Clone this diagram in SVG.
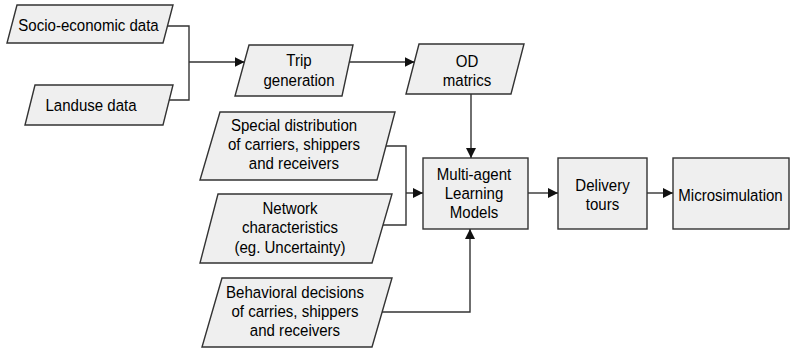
<svg xmlns="http://www.w3.org/2000/svg" width="792" height="348" viewBox="0 0 792 348">
  <defs>
    <marker id="arrow" markerUnits="userSpaceOnUse" markerWidth="11" markerHeight="10" refX="10" refY="5" orient="auto">
      <path d="M0,0 L10,5 L0,10 z" fill="#111"/>
    </marker>
    <style>
      .box { fill: #efefef; stroke: #333; stroke-width: 1.4; }
      .lbl { font-family: "Liberation Sans", Arial, sans-serif; font-size: 17px; fill: #000; text-anchor: middle; }
      .wire { fill: none; stroke: #333; stroke-width: 1.4; }
    </style>
  </defs>
  <rect width="792" height="348" fill="#fff"/>

  <!-- input data -->
  <g id="socio">
    <polygon class="box" points="17,5 173,5 163,43 7,43"/>
    <text class="lbl" transform="translate(88.5,31) scale(0.885,1)" x="0" y="0">Socio-economic data</text>
  </g>
  <g id="landuse">
    <polygon class="box" points="35,85 173,85 163,125 25,125"/>
    <text class="lbl" transform="translate(91,111) scale(0.885,1)" x="0" y="0">Landuse data</text>
  </g>

  <g id="trip">
    <polygon class="box" points="249,45 353,45 342,96 235,96"/>
    <text class="lbl" transform="translate(299,66) scale(0.885,1)"><tspan x="0" y="0">Trip</tspan><tspan x="0" y="20">generation</tspan></text>
  </g>
  <g id="od">
    <polygon class="box" points="419,44 524,44 511,94 406,94"/>
    <text class="lbl" transform="translate(467,67) scale(0.885,1)"><tspan x="0" y="0">OD</tspan><tspan x="0" y="19.5">matrics</tspan></text>
  </g>

  <g id="special">
    <polygon class="box" points="220,112 395,112 377,180 200,180"/>
    <text class="lbl" transform="translate(294,131) scale(0.885,1)"><tspan x="0" y="0">Special distribution</tspan><tspan x="0" y="19">of carriers, shippers</tspan><tspan x="0" y="38">and receivers</tspan></text>
  </g>
  <g id="network">
    <polygon class="box" points="218,194 392,194 372,263 200,263"/>
    <text class="lbl" transform="translate(290,214) scale(0.885,1)"><tspan x="0" y="0">Network</tspan><tspan x="0" y="19.5">characteristics</tspan><tspan x="0" y="39">(eg. Uncertainty)</tspan></text>
  </g>
  <g id="behavioral">
    <polygon class="box" points="222,278 392,278 372,347 202,347"/>
    <text class="lbl" transform="translate(295,298) scale(0.885,1)"><tspan x="0" y="0">Behavioral decisions</tspan><tspan x="0" y="19">of carries, shippers</tspan><tspan x="0" y="38">and receivers</tspan></text>
  </g>

  <!-- process chain -->
  <g id="multiagent">
    <rect class="box" x="423" y="158" width="105" height="71"/>
    <text class="lbl" transform="translate(474,180) scale(0.885,1)"><tspan x="0" y="0">Multi-agent</tspan><tspan x="0" y="19">Learning</tspan><tspan x="0" y="38">Models</tspan></text>
  </g>
  <g id="delivery">
    <rect class="box" x="558" y="158" width="89" height="71"/>
    <text class="lbl" transform="translate(602.5,191) scale(0.885,1)"><tspan x="0" y="0">Delivery</tspan><tspan x="0" y="19">tours</tspan></text>
  </g>
  <g id="microsim">
    <rect class="box" x="673" y="158" width="116" height="71"/>
    <text class="lbl" transform="translate(730.5,200.5) scale(0.885,1)" x="0" y="0">Microsimulation</text>
  </g>

  <g id="connectors">
    <polyline class="wire" points="167.5,26 189,26 189,100 169,100"/>
    <line class="wire" x1="189" y1="62" x2="244.5" y2="62" marker-end="url(#arrow)"/>
    <line class="wire" x1="349.5" y1="62" x2="414.5" y2="62" marker-end="url(#arrow)"/>
    <line class="wire" x1="471" y1="94" x2="471" y2="158" marker-end="url(#arrow)"/>
    <polyline class="wire" points="386,146 406,146 406,225 383,225"/>
    <line class="wire" x1="406" y1="193" x2="423" y2="193" marker-end="url(#arrow)"/>
    <polyline class="wire" points="382,312 470,312 470,229" marker-end="url(#arrow)"/>
    <line class="wire" x1="528" y1="193" x2="558" y2="193" marker-end="url(#arrow)"/>
    <line class="wire" x1="647" y1="193" x2="673" y2="193" marker-end="url(#arrow)"/>
  </g>
</svg>
